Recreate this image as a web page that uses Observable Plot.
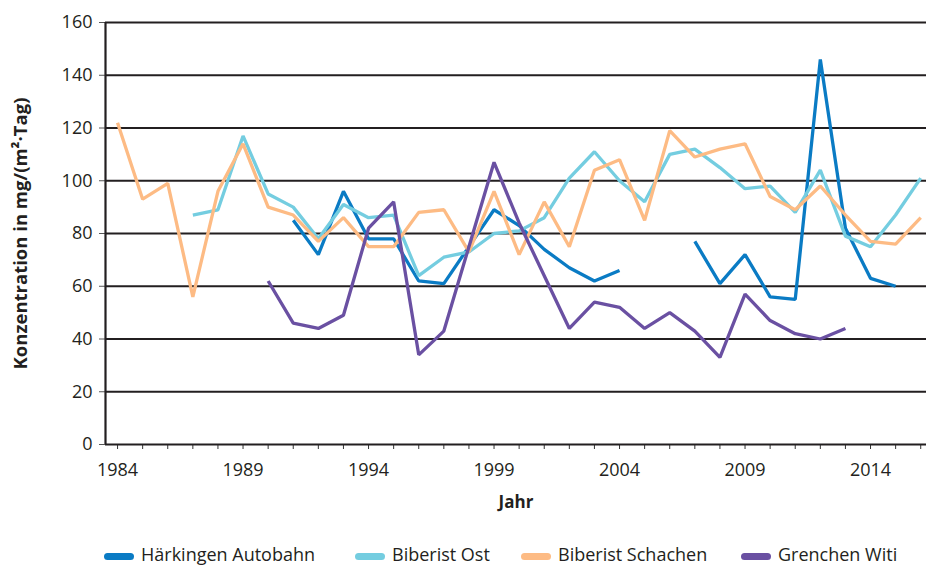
<!DOCTYPE html>
<html>
<head>
<meta charset="utf-8">
<script src="https://cdn.jsdelivr.net/npm/d3@7"></script>
<script src="https://cdn.jsdelivr.net/npm/@observablehq/plot@0.6"></script>
<style>
  html, body { margin: 0; padding: 0; background: #fff; }
  body { width: 926px; height: 565px; overflow: hidden; font-family: "Open Sans", "Noto Sans", sans-serif; }
  #chart { position: relative; width: 926px; height: 525px; }
  #chart svg { display: block; }
  #legend { position: relative; width: 926px; height: 40px; font-size: 18px; color: #231f20; }
  .item { position: absolute; top: 17px; display: flex; align-items: center; white-space: nowrap; line-height: 24px; }
  .sw { width: 30px; height: 7px; border-radius: 4px; margin-right: 7px; margin-top: 5px; }
</style>
</head>
<body>
<div id="chart"></div>
<div id="legend"></div>
<script>
const years = d3.range(1984, 2017);
const seriesNames = ["Härkingen Autobahn", "Biberist Ost", "Biberist Schachen", "Grenchen Witi"];
const seriesColors = ["#0a7bc4", "#74cde0", "#fdbb84", "#6a50a2"];

// values per year 1984..2016, null = no measurement
const haerkingen = [null,null,null,null,null,null,null,85,72,96,78,78,62,61,75,89,83,74,67,62,66,null,null,77,61,72,56,55,146,82,63,60,null];
const biberistOst = [null,null,null,87,89,117,95,90,78,91,86,87,64,71,73,80,81,86,101,111,100,92,110,112,105,97,98,88,104,79,75,87,101];
const biberistSchachen = [122,93,99,56,96,114,90,87,77,86,75,75,88,89,73,96,72,92,75,104,108,85,119,109,112,114,94,89,98,87,77,76,86];
const grenchenWiti = [null,null,null,null,null,null,62,46,44,49,82,92,34,43,75,107,84,64,44,54,52,44,50,43,33,57,47,42,40,44,null,null,null];

const yTicks = [0, 20, 40, 60, 80, 100, 120, 140, 160];
const xLabelYears = [1984, 1989, 1994, 1999, 2004, 2009, 2014];

const allSeries = [haerkingen, biberistOst, biberistSchachen, grenchenWiti];
const rows = [];
allSeries.forEach((vals, si) => {
  vals.forEach((v, i) => rows.push({year: years[i], value: v, series: seriesNames[si]}));
});

const font = "'Open Sans', 'Noto Sans', sans-serif";
const chart = Plot.plot({
  width: 926,
  height: 525,
  marginLeft: 105,
  marginRight: 0,
  marginTop: 22,
  marginBottom: 81,
  style: {fontFamily: font, fontSize: "18px", color: "#231f20", background: "#fff", overflow: "visible"},
  x: {domain: [1983.52, 2016.23], axis: null},
  y: {domain: [0, 160], axis: null},
  color: {domain: seriesNames, range: seriesColors},
  marks: [
    Plot.ruleY(yTicks.filter(d => d > 0), {x1: 1983.52, x2: 2016.23, stroke: "#231f20", strokeWidth: 2.2}),
    Plot.axisY({ticks: yTicks, tickSize: 6, tickPadding: 7, stroke: "#555", fill: "#231f20", fontSize: 18, label: null, tickFormat: d => String(d)}),
    Plot.axisX({ticks: years, tickSize: 5, stroke: "#333", tickFormat: () => "", label: null}),
    Plot.axisX({ticks: xLabelYears, tickSize: 0, tickPadding: 19, tickFormat: d => String(d), fill: "#231f20", fontSize: 18, label: null}),
    Plot.ruleX([1983.52], {y1: 0, y2: 160, stroke: "#231f20", strokeWidth: 2.2}),
    Plot.ruleY([0], {x1: 1983.52, x2: 2016.23, stroke: "#231f20", strokeWidth: 2.2}),
    Plot.lineY(rows, {x: "year", y: "value", z: "series", stroke: "series", strokeWidth: 3.3, strokeLinejoin: "miter", strokeLinecap: "butt"}),
    Plot.text(["Jahr"], {frameAnchor: "bottom", lineAnchor: "middle", dy: 58, text: d => d, fontWeight: "bold", fontSize: 17, fill: "#231f20"}),
    Plot.text(["Konzentration in mg/(m²·Tag)"], {frameAnchor: "left", textAnchor: "middle", lineAnchor: "middle", dx: -84, rotate: -90, text: d => d, fontWeight: "bold", fontSize: 18.5, fill: "#231f20"})
  ]
});
document.getElementById("chart").appendChild(chart);

const legend = document.getElementById("legend");
const lefts = [104, 355, 521, 741];
seriesNames.forEach((name, i) => {
  const item = document.createElement("div");
  item.className = "item";
  item.style.left = lefts[i] + "px";
  const sw = document.createElement("span");
  sw.className = "sw";
  sw.style.background = seriesColors[i];
  const label = document.createElement("span");
  label.textContent = name;
  item.appendChild(sw);
  item.appendChild(label);
  legend.appendChild(item);
});
</script>
</body>
</html>
